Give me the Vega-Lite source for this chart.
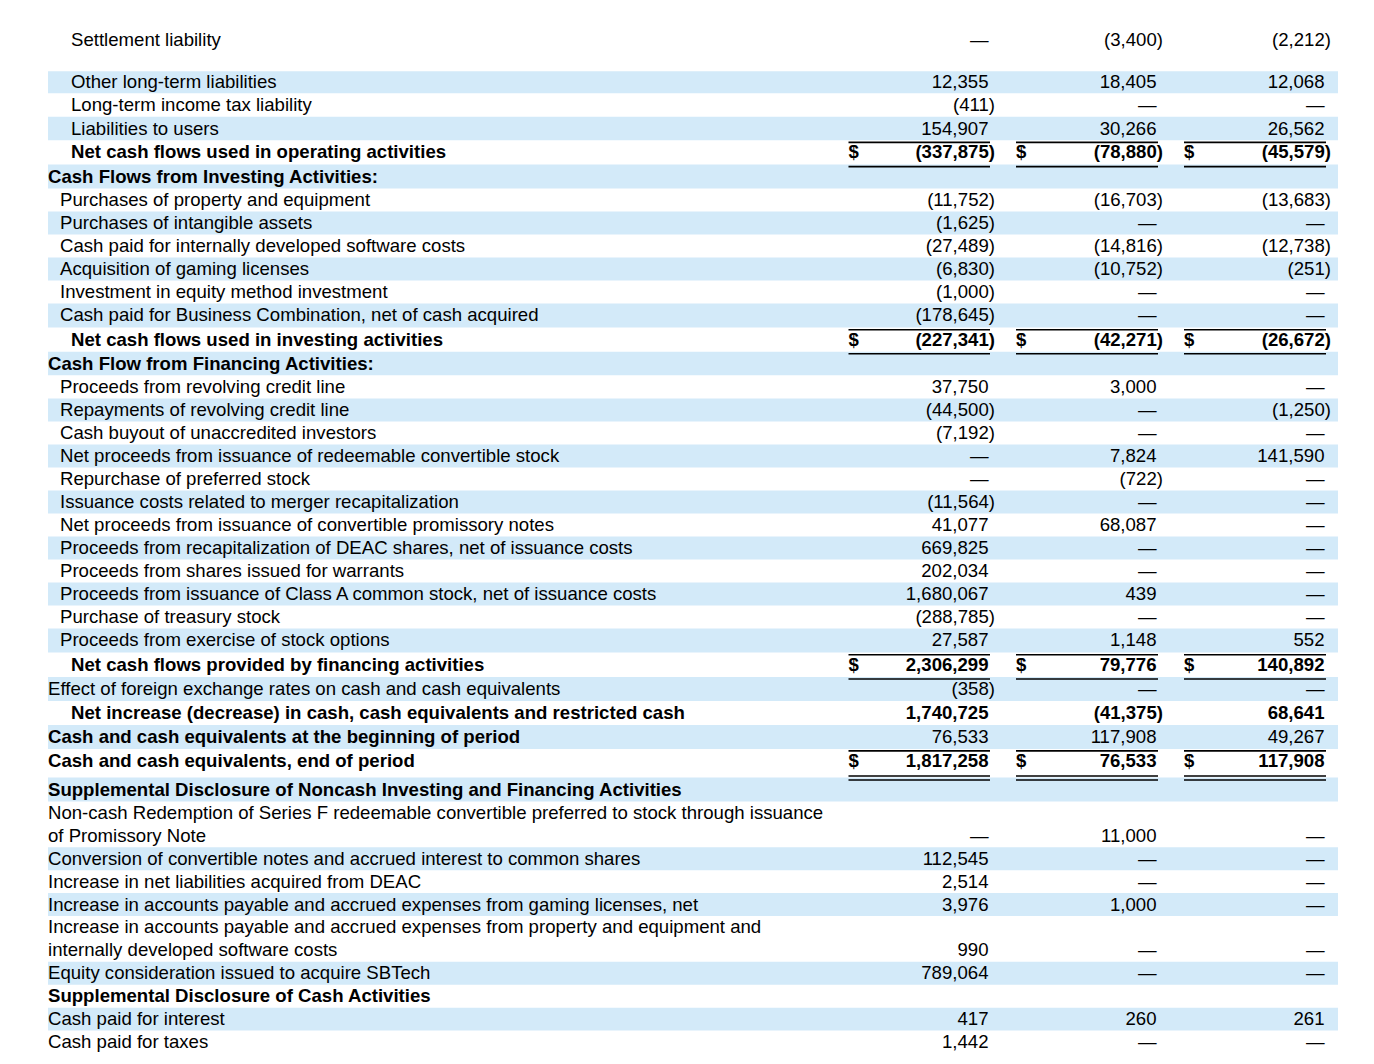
{
  "$schema": "https://vega.github.io/schema/vega-lite/v6.json",
  "width": 1374,
  "height": 1064,
  "padding": 0,
  "autosize": {"type": "none"},
  "background": "white",
  "config": {"view": {"stroke": null}, "text": {"font": "Liberation Sans", "fontSize": 18.6, "color": "#000000"}},
  "data": {"values": [
    {"line": 0, "part": 1, "level": 2, "kind": "item", "label": "Settlement liability", "v1": "—", "v2": "(3,400)", "v3": "(2,212)"},
    {"line": 2, "part": 2, "level": 2, "kind": "item", "label": "Other long-term liabilities", "v1": "12,355", "v2": "18,405", "v3": "12,068"},
    {"line": 3, "part": 2, "level": 2, "kind": "item", "label": "Long-term income tax liability", "v1": "(411)", "v2": "—", "v3": "—"},
    {"line": 4, "part": 2, "level": 2, "kind": "item", "label": "Liabilities to users", "v1": "154,907", "v2": "30,266", "v3": "26,562"},
    {"line": 5, "part": 2, "level": 2, "kind": "total", "label": "Net cash flows used in operating activities", "v1": "(337,875)", "v2": "(78,880)", "v3": "(45,579)"},
    {"line": 6, "part": 2, "level": 0, "kind": "head", "label": "Cash Flows from Investing Activities:"},
    {"line": 7, "part": 2, "level": 1, "kind": "item", "label": "Purchases of property and equipment", "v1": "(11,752)", "v2": "(16,703)", "v3": "(13,683)"},
    {"line": 8, "part": 2, "level": 1, "kind": "item", "label": "Purchases of intangible assets", "v1": "(1,625)", "v2": "—", "v3": "—"},
    {"line": 9, "part": 2, "level": 1, "kind": "item", "label": "Cash paid for internally developed software costs", "v1": "(27,489)", "v2": "(14,816)", "v3": "(12,738)"},
    {"line": 10, "part": 2, "level": 1, "kind": "item", "label": "Acquisition of gaming licenses", "v1": "(6,830)", "v2": "(10,752)", "v3": "(251)"},
    {"line": 11, "part": 2, "level": 1, "kind": "item", "label": "Investment in equity method investment", "v1": "(1,000)", "v2": "—", "v3": "—"},
    {"line": 12, "part": 2, "level": 1, "kind": "item", "label": "Cash paid for Business Combination, net of cash acquired", "v1": "(178,645)", "v2": "—", "v3": "—"},
    {"line": 13, "part": 2, "level": 2, "kind": "total", "label": "Net cash flows used in investing activities", "v1": "(227,341)", "v2": "(42,271)", "v3": "(26,672)"},
    {"line": 14, "part": 2, "level": 0, "kind": "head", "label": "Cash Flow from Financing Activities:"},
    {"line": 15, "part": 2, "level": 1, "kind": "item", "label": "Proceeds from revolving credit line", "v1": "37,750", "v2": "3,000", "v3": "—"},
    {"line": 16, "part": 2, "level": 1, "kind": "item", "label": "Repayments of revolving credit line", "v1": "(44,500)", "v2": "—", "v3": "(1,250)"},
    {"line": 17, "part": 2, "level": 1, "kind": "item", "label": "Cash buyout of unaccredited investors", "v1": "(7,192)", "v2": "—", "v3": "—"},
    {"line": 18, "part": 2, "level": 1, "kind": "item", "label": "Net proceeds from issuance of redeemable convertible stock", "v1": "—", "v2": "7,824", "v3": "141,590"},
    {"line": 19, "part": 2, "level": 1, "kind": "item", "label": "Repurchase of preferred stock", "v1": "—", "v2": "(722)", "v3": "—"},
    {"line": 20, "part": 2, "level": 1, "kind": "item", "label": "Issuance costs related to merger recapitalization", "v1": "(11,564)", "v2": "—", "v3": "—"},
    {"line": 21, "part": 2, "level": 1, "kind": "item", "label": "Net proceeds from issuance of convertible promissory notes", "v1": "41,077", "v2": "68,087", "v3": "—"},
    {"line": 22, "part": 2, "level": 1, "kind": "item", "label": "Proceeds from recapitalization of DEAC shares, net of issuance costs", "v1": "669,825", "v2": "—", "v3": "—"},
    {"line": 23, "part": 2, "level": 1, "kind": "item", "label": "Proceeds from shares issued for warrants", "v1": "202,034", "v2": "—", "v3": "—"},
    {"line": 24, "part": 2, "level": 1, "kind": "item", "label": "Proceeds from issuance of Class A common stock, net of issuance costs", "v1": "1,680,067", "v2": "439", "v3": "—"},
    {"line": 25, "part": 2, "level": 1, "kind": "item", "label": "Purchase of treasury stock", "v1": "(288,785)", "v2": "—", "v3": "—"},
    {"line": 26, "part": 2, "level": 1, "kind": "item", "label": "Proceeds from exercise of stock options", "v1": "27,587", "v2": "1,148", "v3": "552"},
    {"line": 27, "part": 2, "level": 2, "kind": "total", "label": "Net cash flows provided by financing activities", "v1": "2,306,299", "v2": "79,776", "v3": "140,892"},
    {"line": 28, "part": 2, "level": 0, "kind": "item", "label": "Effect of foreign exchange rates on cash and cash equivalents", "v1": "(358)", "v2": "—", "v3": "—"},
    {"line": 29, "part": 2, "level": 2, "kind": "bold", "label": "Net increase (decrease) in cash, cash equivalents and restricted cash", "v1": "1,740,725", "v2": "(41,375)", "v3": "68,641"},
    {"line": 30, "part": 2, "level": 0, "kind": "boldlabel", "label": "Cash and cash equivalents at the beginning of period", "v1": "76,533", "v2": "117,908", "v3": "49,267"},
    {"line": 31, "part": 2, "level": 0, "kind": "grand", "label": "Cash and cash equivalents, end of period", "v1": "1,817,258", "v2": "76,533", "v3": "117,908"},
    {"line": 32, "part": 2, "level": 0, "kind": "head", "label": "Supplemental Disclosure of Noncash Investing and Financing Activities"},
    {"line": 33, "span": 2, "part": 2, "level": 0, "kind": "item", "label": "Non-cash Redemption of Series F redeemable convertible preferred to stock through issuance\nof Promissory Note", "v1": "—", "v2": "11,000", "v3": "—"},
    {"line": 35, "part": 2, "level": 0, "kind": "item", "label": "Conversion of convertible notes and accrued interest to common shares", "v1": "112,545", "v2": "—", "v3": "—"},
    {"line": 36, "part": 2, "level": 0, "kind": "item", "label": "Increase in net liabilities acquired from DEAC", "v1": "2,514", "v2": "—", "v3": "—"},
    {"line": 37, "part": 2, "level": 0, "kind": "item", "label": "Increase in accounts payable and accrued expenses from gaming licenses, net", "v1": "3,976", "v2": "1,000", "v3": "—"},
    {"line": 38, "span": 2, "part": 2, "level": 0, "kind": "item", "label": "Increase in accounts payable and accrued expenses from property and equipment and\ninternally developed software costs", "v1": "990", "v2": "—", "v3": "—"},
    {"line": 40, "part": 2, "level": 0, "kind": "item", "label": "Equity consideration issued to acquire SBTech", "v1": "789,064", "v2": "—", "v3": "—"},
    {"line": 41, "part": 2, "level": 0, "kind": "head", "label": "Supplemental Disclosure of Cash Activities"},
    {"line": 42, "part": 2, "level": 0, "kind": "item", "label": "Cash paid for interest", "v1": "417", "v2": "260", "v3": "261"},
    {"line": 43, "part": 2, "level": 0, "kind": "item", "label": "Cash paid for taxes", "v1": "1,442", "v2": "—", "v3": "—"}
  ]},
  "transform": [
    {"calculate": "datum.span ? datum.span : 1", "as": "sp"},
    {"calculate": "datum.line - 0.5", "as": "ytop"},
    {"calculate": "datum.line + datum.sp - 0.5", "as": "ybot"},
    {"calculate": "datum.line + datum.sp - 1", "as": "vy"}
  ],
  "layer": [
    {
      "transform": [
        {"window": [{"op": "row_number", "as": "rn"}], "sort": [{"field": "line", "order": "ascending"}], "groupby": ["part"]},
        {"filter": "datum.part === 2 && datum.rn % 2 === 1"}
      ],
      "mark": {"type": "rect", "color": "#d3eaf9"},
      "encoding": {
        "x": {"datum": 0, "type": "quantitative", "axis": null, "scale": {"type": "linear", "domain": [0,1,2,3,4,5,6,7,8,9,10,11,12], "range": [48,60,71,848.5,988.5,990,1016,1156.5,1158,1184,1324.5,1326,1338], "zero": false, "nice": false}},
        "x2": {"datum": 12},
        "y": {"field": "ytop", "type": "quantitative", "axis": null, "scale": {"type": "linear", "domain": [-1, 0, 2, 5, 6, 12, 13, 15, 26, 27, 31, 31.5, 32, 44], "range": [19.5, 40, 81.5, 152, 177, 315, 340, 387, 640, 665, 761, 777.5, 790, 1064.9], "zero": false, "nice": false}},
        "y2": {"field": "ybot"}
      }
    },
    {
      "transform": [{"filter": "datum.kind === 'item'"}],
      "mark": {"type": "text", "align": "left", "baseline": "middle", "lineHeight": 22.9, "lineBreak": "\n"},
      "encoding": {
        "x": {"field": "level", "type": "quantitative", "axis": null, "scale": {"type": "linear", "domain": [0,1,2,3,4,5,6,7,8,9,10,11,12], "range": [48,60,71,848.5,988.5,990,1016,1156.5,1158,1184,1324.5,1326,1338], "zero": false, "nice": false}},
        "y": {"field": "line", "type": "quantitative", "axis": null, "scale": {"type": "linear", "domain": [-1, 0, 2, 5, 6, 12, 13, 15, 26, 27, 31, 31.5, 32, 44], "range": [19.5, 40, 81.5, 152, 177, 315, 340, 387, 640, 665, 761, 777.5, 790, 1064.9], "zero": false, "nice": false}},
        "text": {"field": "label"}
      }
    },
    {
      "transform": [{"filter": "datum.kind !== 'item'"}],
      "mark": {"type": "text", "align": "left", "baseline": "middle", "lineHeight": 22.9, "lineBreak": "\n", "fontWeight": "bold"},
      "encoding": {
        "x": {"field": "level", "type": "quantitative", "axis": null, "scale": {"type": "linear", "domain": [0,1,2,3,4,5,6,7,8,9,10,11,12], "range": [48,60,71,848.5,988.5,990,1016,1156.5,1158,1184,1324.5,1326,1338], "zero": false, "nice": false}},
        "y": {"field": "line", "type": "quantitative", "axis": null, "scale": {"type": "linear", "domain": [-1, 0, 2, 5, 6, 12, 13, 15, 26, 27, 31, 31.5, 32, 44], "range": [19.5, 40, 81.5, 152, 177, 315, 340, 387, 640, 665, 761, 777.5, 790, 1064.9], "zero": false, "nice": false}},
        "text": {"field": "label"}
      }
    },
    {
      "transform": [
        {"fold": ["v1", "v2", "v3"], "as": ["key", "value"]},
        {"filter": "isValid(datum.value)"},
        {"calculate": "datum.key === 'v1' ? 4 : datum.key === 'v2' ? 7 : 10", "as": "c"},
        {"filter": "indexof(['total','grand','bold'], datum.kind) < 0 && indexof(datum.value, ')') < 0"}
      ],
      "mark": {"type": "text", "align": "right", "baseline": "middle"},
      "encoding": {
        "x": {"field": "c", "type": "quantitative", "axis": null, "scale": {"type": "linear", "domain": [0,1,2,3,4,5,6,7,8,9,10,11,12], "range": [48,60,71,848.5,988.5,990,1016,1156.5,1158,1184,1324.5,1326,1338], "zero": false, "nice": false}},
        "y": {"field": "vy", "type": "quantitative", "axis": null, "scale": {"type": "linear", "domain": [-1, 0, 2, 5, 6, 12, 13, 15, 26, 27, 31, 31.5, 32, 44], "range": [19.5, 40, 81.5, 152, 177, 315, 340, 387, 640, 665, 761, 777.5, 790, 1064.9], "zero": false, "nice": false}},
        "text": {"field": "value"}
      }
    },
    {
      "transform": [
        {"fold": ["v1", "v2", "v3"], "as": ["key", "value"]},
        {"filter": "isValid(datum.value)"},
        {"calculate": "datum.key === 'v1' ? 4 : datum.key === 'v2' ? 7 : 10", "as": "c"},
        {"filter": "indexof(['total','grand','bold'], datum.kind) < 0 && indexof(datum.value, ')') >= 0"}
      ],
      "mark": {"type": "text", "align": "right", "baseline": "middle", "dx": 6.5},
      "encoding": {
        "x": {"field": "c", "type": "quantitative", "axis": null, "scale": {"type": "linear", "domain": [0,1,2,3,4,5,6,7,8,9,10,11,12], "range": [48,60,71,848.5,988.5,990,1016,1156.5,1158,1184,1324.5,1326,1338], "zero": false, "nice": false}},
        "y": {"field": "vy", "type": "quantitative", "axis": null, "scale": {"type": "linear", "domain": [-1, 0, 2, 5, 6, 12, 13, 15, 26, 27, 31, 31.5, 32, 44], "range": [19.5, 40, 81.5, 152, 177, 315, 340, 387, 640, 665, 761, 777.5, 790, 1064.9], "zero": false, "nice": false}},
        "text": {"field": "value"}
      }
    },
    {
      "transform": [
        {"fold": ["v1", "v2", "v3"], "as": ["key", "value"]},
        {"filter": "isValid(datum.value)"},
        {"calculate": "datum.key === 'v1' ? 4 : datum.key === 'v2' ? 7 : 10", "as": "c"},
        {"filter": "indexof(['total','grand','bold'], datum.kind) >= 0 && indexof(datum.value, ')') < 0"}
      ],
      "mark": {"type": "text", "align": "right", "baseline": "middle", "fontWeight": "bold"},
      "encoding": {
        "x": {"field": "c", "type": "quantitative", "axis": null, "scale": {"type": "linear", "domain": [0,1,2,3,4,5,6,7,8,9,10,11,12], "range": [48,60,71,848.5,988.5,990,1016,1156.5,1158,1184,1324.5,1326,1338], "zero": false, "nice": false}},
        "y": {"field": "vy", "type": "quantitative", "axis": null, "scale": {"type": "linear", "domain": [-1, 0, 2, 5, 6, 12, 13, 15, 26, 27, 31, 31.5, 32, 44], "range": [19.5, 40, 81.5, 152, 177, 315, 340, 387, 640, 665, 761, 777.5, 790, 1064.9], "zero": false, "nice": false}},
        "text": {"field": "value"}
      }
    },
    {
      "transform": [
        {"fold": ["v1", "v2", "v3"], "as": ["key", "value"]},
        {"filter": "isValid(datum.value)"},
        {"calculate": "datum.key === 'v1' ? 4 : datum.key === 'v2' ? 7 : 10", "as": "c"},
        {"filter": "indexof(['total','grand','bold'], datum.kind) >= 0 && indexof(datum.value, ')') >= 0"}
      ],
      "mark": {"type": "text", "align": "right", "baseline": "middle", "fontWeight": "bold", "dx": 6.5},
      "encoding": {
        "x": {"field": "c", "type": "quantitative", "axis": null, "scale": {"type": "linear", "domain": [0,1,2,3,4,5,6,7,8,9,10,11,12], "range": [48,60,71,848.5,988.5,990,1016,1156.5,1158,1184,1324.5,1326,1338], "zero": false, "nice": false}},
        "y": {"field": "vy", "type": "quantitative", "axis": null, "scale": {"type": "linear", "domain": [-1, 0, 2, 5, 6, 12, 13, 15, 26, 27, 31, 31.5, 32, 44], "range": [19.5, 40, 81.5, 152, 177, 315, 340, 387, 640, 665, 761, 777.5, 790, 1064.9], "zero": false, "nice": false}},
        "text": {"field": "value"}
      }
    },
    {
      "transform": [
        {"filter": "datum.kind === 'total' || datum.kind === 'grand'"},
        {"fold": ["v1", "v2", "v3"], "as": ["key", "value"]},
        {"calculate": "datum.key === 'v1' ? 3 : datum.key === 'v2' ? 6 : 9", "as": "c"}
      ],
      "mark": {"type": "text", "align": "left", "baseline": "middle", "fontWeight": "bold"},
      "encoding": {
        "x": {"field": "c", "type": "quantitative", "axis": null, "scale": {"type": "linear", "domain": [0,1,2,3,4,5,6,7,8,9,10,11,12], "range": [48,60,71,848.5,988.5,990,1016,1156.5,1158,1184,1324.5,1326,1338], "zero": false, "nice": false}},
        "y": {"field": "vy", "type": "quantitative", "axis": null, "scale": {"type": "linear", "domain": [-1, 0, 2, 5, 6, 12, 13, 15, 26, 27, 31, 31.5, 32, 44], "range": [19.5, 40, 81.5, 152, 177, 315, 340, 387, 640, 665, 761, 777.5, 790, 1064.9], "zero": false, "nice": false}},
        "text": {"value": "$"}
      }
    },
    {
      "transform": [
        {"filter": "datum.kind === 'total' || datum.kind === 'grand'"},
        {"fold": ["v1", "v2", "v3"], "as": ["key", "value"]},
        {"calculate": "datum.key === 'v1' ? 3 : datum.key === 'v2' ? 6 : 9", "as": "c0"},
        {"calculate": "datum.c0 + 2", "as": "c1"},
        {"calculate": "datum.kind === 'grand' ? [-0.42, 0.455, 0.6] : [-0.41, 0.585]", "as": "offs"},
        {"flatten": ["offs"]},
        {"calculate": "datum.line + datum.offs", "as": "ry"}
      ],
      "mark": {"type": "rule", "color": "#000000", "strokeWidth": 1.6},
      "encoding": {
        "x": {"field": "c0", "type": "quantitative", "axis": null, "scale": {"type": "linear", "domain": [0,1,2,3,4,5,6,7,8,9,10,11,12], "range": [48,60,71,848.5,988.5,990,1016,1156.5,1158,1184,1324.5,1326,1338], "zero": false, "nice": false}},
        "x2": {"field": "c1"},
        "y": {"field": "ry", "type": "quantitative", "axis": null, "scale": {"type": "linear", "domain": [-1, 0, 2, 5, 6, 12, 13, 15, 26, 27, 31, 31.5, 32, 44], "range": [19.5, 40, 81.5, 152, 177, 315, 340, 387, 640, 665, 761, 777.5, 790, 1064.9], "zero": false, "nice": false}}
      }
    }
  ]
}
